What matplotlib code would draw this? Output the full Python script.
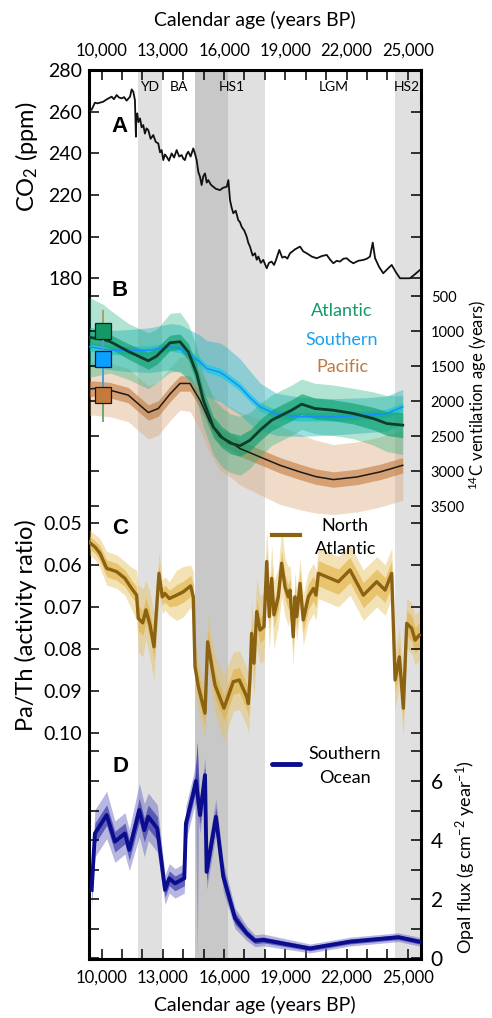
import numpy as np
import matplotlib
matplotlib.use("Agg")
import matplotlib.pyplot as plt
from matplotlib.ticker import FuncFormatter, MultipleLocator, FixedLocator, FormatStrFormatter
from matplotlib.lines import Line2D

plt.rcParams['font.family'] = ['Lato', 'DejaVu Sans']
plt.rcParams['mathtext.fontset'] = 'custom'
plt.rcParams['mathtext.rm'] = 'Lato'
plt.rcParams['mathtext.it'] = 'Lato:italic'
plt.rcParams['mathtext.bf'] = 'Lato:bold'

# ---- A: atmospheric CO2 ----
co2_age = [9400, 9510, 9670, 9800, 10080, 10245, 10490, 10600, 10735, 10850, 10980, 11100,
           11225, 11390, 11470, 11550, 11630, 11680, 11700, 11745, 11800, 11880, 11960, 12040,
           12120, 12200, 12285, 12400, 12530, 12650, 12775, 12860, 12940, 13020, 13100, 13185,
           13300, 13430, 13550, 13675, 13800, 13920, 14000, 14080, 14160, 14245, 14360, 14490,
           14570, 14655, 14740, 14820, 14900, 14980, 15065, 15150, 15225, 15350, 15470, 15600,
           15800, 15950, 16130, 16210, 16290, 16370, 16450, 16570, 16695, 16780, 16860, 16990,
           17110, 17190, 17270, 17400, 17515, 17600, 17680, 17800, 17920, 18000, 18090, 18200,
           18330, 18450, 18545, 18705, 18850, 18985, 19100, 19230, 19480, 19720, 19880, 20050,
           20300, 20540, 20800, 21030, 21200, 21355, 21520, 21680, 21850, 22010, 22170, 22335,
           22580, 22825, 23000, 23150, 23285, 23400, 23600, 23800, 24000, 24215, 24420, 24620,
           24900, 25110, 25350, 25600]
co2_ppm = [260.5, 261, 264.3, 264, 264.8, 265.9, 267.2, 266, 268, 266.8, 266.4, 267,
           265.3, 267.2, 270.7, 269.6, 265.6, 248, 258, 259.2, 255, 256.8, 252.5, 253.6,
           249.5, 252, 251.2, 247, 248.8, 245.5, 244.8, 240.5, 241.6, 236.8, 239.5, 238.4,
           236.5, 240, 238, 241.6, 238.5, 239.2, 237.5, 236.8, 239.5, 240.8, 238.5, 242.4,
           240, 236.8, 231, 228.8, 224.8, 229, 230.4, 226, 227.2, 225, 224, 223,
           222.4, 223.5, 224, 227.2, 217.6, 214, 211.3, 212.5, 208, 207, 204.8, 203,
           200, 197, 195.3, 191, 192.1, 189, 190.5, 187.5, 188.9, 187, 184.9, 187.5,
           188.1, 186.5, 188.9, 193.7, 190, 190.5, 189.5, 192.1, 194, 195.3, 193, 192.1,
           190.5, 189.7, 190.8, 191.3, 189, 187.3, 188.5, 188.1, 189.5, 189.7, 188.3, 187.3,
           188.5, 188.9, 189.5, 190.5, 197.2, 189.7, 185.5, 182.5, 184.5, 186.5, 183, 180.1,
           180.1, 180.1, 182, 184.1]

# ---- B: 14C ventilation age ----
atl_age = [9400, 10080, 10410, 11300, 12285, 12695, 13350, 13840, 14245, 14655, 14985, 15470,
           15900, 16290, 16780, 17270, 17760, 18330, 18820, 19310, 19800, 20455, 21355, 22335,
           23315, 23970, 24755]
atl_vent = [1090, 1120, 1150, 1290, 1425, 1358, 1168, 1153, 1297, 1606, 1988, 2370,
            2520, 2600, 2640, 2560, 2417, 2274, 2202, 2131, 2045, 2107, 2131, 2178,
            2250, 2321, 2345]
atl_in = [100, 100, 100, 110, 120, 120, 110, 110, 120, 130, 140, 150,
          150, 150, 150, 150, 150, 150, 150, 150, 150, 150, 150, 150, 160, 170, 180]
atl_out = [570, 500, 450, 400, 400, 380, 420, 420, 400, 380, 380, 400,
           420, 420, 420, 400, 380, 360, 360, 360, 360, 360, 360, 360, 380, 400, 420]

sou_age = [9400, 10410, 11300, 12370, 13350, 13840, 14330, 14820, 15145, 15800, 16130, 16780,
           17270, 17760, 18575, 19720, 21355, 22990, 23970, 24755]
sou_vent = [1225, 1272, 1280, 1272, 1225, 1248, 1344, 1440, 1534, 1590, 1654, 1797,
            1950, 2083, 2190, 2226, 2226, 2202, 2178, 2083]
sou_in = [60, 60, 60, 60, 60, 60, 60, 60, 60, 60, 60, 60, 60, 60, 60, 60, 60, 60, 60, 60]
sou_out = [280, 280, 300, 320, 330, 340, 360, 380, 400, 420, 420, 400,
           380, 340, 300, 280, 260, 250, 250, 250]

pac_age = [9400, 9590, 10410, 11305, 12285, 12775, 13350, 13840, 14330, 14820, 15310, 15800,
           16290, 16780, 17760, 18740, 19720, 20500, 21355, 22500, 23640, 24755]
pac_vent = [1830, 1821, 1845, 1916, 2164, 2107, 1900, 1749, 1749, 1988, 2298, 2512,
            2580, 2679, 2799, 2918, 3013, 3080, 3122, 3085, 3013, 2918]
pac_in = [110, 110, 110, 110, 110, 110, 110, 110, 110, 110, 110, 110,
          110, 110, 110, 110, 110, 110, 110, 110, 110, 110]
pac_out = [380, 380, 380, 380, 380, 380, 380, 380, 400, 420, 450, 480,
           500, 520, 540, 560, 540, 520, 500, 500, 500, 500]

# modern (core-top) values
mod_age = 10080
mod_atl, mod_sou, mod_pac = 1000, 1405, 1920

# ---- C: Pa/Th North Atlantic ----
path_age = [9400, 9460, 9670, 9915, 10245, 10735, 11140, 11470, 11715, 11795, 12010, 12170,
            12370, 12565, 12810, 12970, 13100, 13315, 13675, 14000, 14360, 14490, 14575, 14740,
            15065, 15195, 15555, 15995, 16450, 16745, 17110, 17190, 17270, 17350, 17465, 17600,
            17760, 17955, 18090, 18215, 18335, 18445, 18655, 18820, 18985, 19145, 19230, 19390,
            19475, 19560, 19720, 19880, 20130, 20375, 20505, 20620, 21600, 22170, 22825, 23480,
            23890, 24215, 24380, 24590, 24785, 24950, 25195, 25360, 25570]
path_val = [0.0545, 0.0548, 0.0556, 0.0571, 0.0607, 0.0615, 0.0631, 0.0655, 0.0671, 0.0726, 0.0737, 0.0706,
            0.0742, 0.0794, 0.0619, 0.0675, 0.0667, 0.0679, 0.0671, 0.0663, 0.0649, 0.0675, 0.0841, 0.0889,
            0.0952, 0.0782, 0.0885, 0.0940, 0.0877, 0.0873, 0.0913, 0.0929, 0.0869, 0.0762, 0.0833, 0.0710,
            0.0754, 0.0746, 0.0591, 0.0722, 0.0631, 0.0718, 0.0675, 0.0595, 0.0651, 0.0675, 0.0659, 0.0770,
            0.0675, 0.0722, 0.0643, 0.0730, 0.0675, 0.0655, 0.0671, 0.0619, 0.0639, 0.0611, 0.0671, 0.0639,
            0.0659, 0.0619, 0.0873, 0.0818, 0.0940, 0.0738, 0.0750, 0.0778, 0.0766]
path_in = [0.0015, 0.0015, 0.0015, 0.0018, 0.002, 0.002, 0.002, 0.002, 0.002, 0.003, 0.003, 0.003,
           0.003, 0.003, 0.002, 0.002, 0.002, 0.002, 0.0025, 0.0025, 0.0025, 0.003, 0.003, 0.003,
           0.003, 0.003, 0.003, 0.003, 0.003, 0.003, 0.003, 0.003, 0.003, 0.003, 0.003, 0.003,
           0.003, 0.003, 0.003, 0.003, 0.003, 0.003, 0.003, 0.003, 0.003, 0.003, 0.003, 0.003,
           0.003, 0.003, 0.003, 0.003, 0.003, 0.003, 0.003, 0.003, 0.003, 0.003, 0.003, 0.003,
           0.003, 0.003, 0.003, 0.003, 0.003, 0.003, 0.003, 0.003, 0.003]
path_out = [0.003, 0.003, 0.003, 0.0035, 0.004, 0.004, 0.004, 0.005, 0.006, 0.008, 0.008, 0.007,
            0.008, 0.008, 0.005, 0.004, 0.004, 0.004, 0.006, 0.006, 0.005, 0.006, 0.006, 0.006,
            0.006, 0.006, 0.007, 0.008, 0.007, 0.007, 0.007, 0.007, 0.008, 0.008, 0.008, 0.008,
            0.008, 0.008, 0.008, 0.008, 0.008, 0.008, 0.007, 0.008, 0.007, 0.007, 0.006, 0.007,
            0.006, 0.006, 0.006, 0.006, 0.006, 0.006, 0.006, 0.006, 0.006, 0.006, 0.006, 0.006,
            0.006, 0.006, 0.007, 0.007, 0.007, 0.006, 0.006, 0.006, 0.006]

# ---- D: opal flux Southern Ocean ----
opal_age = [9510, 9670, 10245, 10650, 11140, 11355, 11845, 12090, 12285, 12725, 13105, 13315,
            13595, 14050, 14130, 14490, 14620, 14820, 15065, 15145, 15600, 15960, 16535, 17110,
            17515, 17920, 20210, 22170, 24540, 25570]
opal_val = [2.32, 4.23, 4.85, 3.95, 4.23, 3.67, 5.02, 4.34, 4.79, 4.40, 2.32, 2.71,
            2.54, 2.71, 4.57, 5.59, 6.0, 4.85, 6.20, 2.93, 4.79, 2.77, 1.36, 0.85,
            0.60, 0.63, 0.34, 0.57, 0.72, 0.57]
opal_in = [0.3, 0.35, 0.35, 0.35, 0.35, 0.35, 0.4, 0.4, 0.4, 0.4, 0.25, 0.25,
           0.25, 0.25, 0.3, 0.3, 0.35, 0.3, 0.3, 0.3, 0.3, 0.25, 0.2, 0.12,
           0.1, 0.1, 0.08, 0.08, 0.08, 0.08]
opal_out = [0.6, 0.8, 0.8, 0.7, 0.7, 0.7, 0.9, 0.9, 0.8, 0.8, 0.5, 0.5,
            0.5, 0.5, 0.6, 0.6, 0.7, 0.6, 0.6, 0.6, 0.6, 0.5, 0.35, 0.25,
            0.2, 0.2, 0.15, 0.15, 0.15, 0.15]
spike_age = [14600, 14680, 14760]
spike_top = [6.4, 7.33, 6.0]
spike_mid = [6.0, 5.8, 5.4]
spike_bot = [5.6, 0.0, 5.0]

# event intervals
light_spans = [(11800, 12950), (16200, 18000), (24400, 25700)]
dark_spans = [(14570, 16200)]
event_names = ['YD', 'BA', 'HS1', 'LGM', 'HS2']
event_x = [12370, 13790, 16390, 21390, 24960]

age_ticks = [10000, 13000, 16000, 19000, 22000, 25000]

W, H = 492, 1018
fig = plt.figure(figsize=(W / 100, H / 100), dpi=100)
ax = fig.add_axes([89 / W, 1 - 959 / H, 332 / W, 889 / H])


def fpos(x, y):
    return x / W, 1 - y / H


for a, b in light_spans:
    ax.axvspan(a, b, color='#e0e0e0', lw=0, zorder=0)
for a, b in dark_spans:
    ax.axvspan(a, b, color='#c8c8c8', lw=0, zorder=0)
for name, xx in zip(event_names, event_x):
    ax.text(xx, 0.981, name, transform=ax.get_xaxis_transform(), ha='center', va='center',
            fontsize=10)

# A
ax.plot(co2_age, co2_ppm, color='#111111', lw=1.3, zorder=3)
ax.set_xlim(9380, 25650)
ax.set_ylim(-146.4, 280)

# B
axb = ax.twinx()
axb.set_ylim(9971, -2729)
x = np.array(pac_age); v = np.array(pac_vent)
axb.fill_between(x, v - np.array(pac_out), v + np.array(pac_out), color='#d9a577', alpha=0.4, lw=0)
axb.fill_between(x, v - np.array(pac_in), v + np.array(pac_in), color='#c27a3c', alpha=0.6, lw=0)
x = np.array(sou_age); v = np.array(sou_vent)
axb.fill_between(x, v - np.array(sou_out), v + np.array(sou_out), color='#28b8c4', alpha=0.45, lw=0)
axb.fill_between(x, v - np.array(sou_in), v + np.array(sou_in), color='#00d0ec', alpha=0.6, lw=0)
x = np.array(atl_age); v = np.array(atl_vent)
axb.fill_between(x, v - np.array(atl_out), v + np.array(atl_out), color='#22b080', alpha=0.35, lw=0)
axb.fill_between(x, v - np.array(atl_in), v + np.array(atl_in), color='#12a070', alpha=0.65, lw=0)
axb.plot(pac_age, pac_vent, color='#1a1a1a', lw=1.1)
axb.plot(sou_age, sou_vent, color='#1a8cff', lw=1.1)
axb.plot(atl_age, atl_vent, color='#0d3d2a', lw=2)
axb.errorbar([mod_age], [mod_atl], yerr=[[300], [1300]], fmt='none', ecolor='#52a060', elinewidth=1.2)
axb.errorbar([mod_age], [mod_pac], yerr=[[1220], [0]], fmt='none', ecolor='#b8a070', elinewidth=1.2)
axb.errorbar([mod_age], [mod_sou], yerr=[[400], [500]], fmt='none', ecolor='#3aa0e8', elinewidth=1.2)
axb.plot([mod_age], [mod_atl], 's', ms=12, mfc='#129966', mec='#1a1a1a', mew=0.9)
axb.plot([mod_age], [mod_sou], 's', ms=12, mfc='#0aa0ff', mec='#1a1a1a', mew=0.9)
axb.plot([mod_age], [mod_pac], 's', ms=12, mfc='#c47a3c', mec='#1a1a1a', mew=0.9)

# C
axc = ax.twinx()
axc.set_ylim(0.1537, -0.0579)
x = np.array(path_age); v = np.array(path_val)
axc.fill_between(x, v - np.array(path_out), v + np.array(path_out), color='#e8c060', alpha=0.45, lw=0)
axc.fill_between(x, v - np.array(path_in), v + np.array(path_in), color='#e0b040', alpha=0.6, lw=0)
axc.plot(path_age, path_val, color='#8a6212', lw=2.4)

# D
axd = ax.twinx()
axd.set_ylim(-0.017, 30.04)
x = np.array(opal_age); v = np.array(opal_val)
axd.fill_between(x, v - np.array(opal_out), v + np.array(opal_out), color='#6060c0', alpha=0.45, lw=0)
axd.fill_between(x, v - np.array(opal_in), v + np.array(opal_in), color='#2828a0', alpha=0.6, lw=0)
axd.fill_between(spike_age, spike_bot, spike_top, color='#6060c0', alpha=0.45, lw=0)
axd.fill_between(spike_age, spike_mid, spike_top, color='#2828a0', alpha=0.6, lw=0)
axd.plot(opal_age, opal_val, color='#0c0c8e', lw=2.8)

# ticks
ax.xaxis.set_major_locator(FixedLocator(age_ticks))
ax.xaxis.set_minor_locator(MultipleLocator(1000))
ax.xaxis.set_major_formatter(FuncFormatter(lambda t, p: f"{t:,.0f}"))
ax.xaxis.set_ticks_position('both')
ax.tick_params(axis='x', which='both', direction='in', length=7, width=1.1,
               labeltop=True, labelbottom=True, labelsize=12, pad=8)

ax.yaxis.set_major_locator(FixedLocator([180, 200, 220, 240, 260, 280]))
axb.yaxis.set_major_locator(FixedLocator([500, 1000, 1500, 2000, 2500, 3000, 3500]))
axc.yaxis.set_major_locator(FixedLocator([0.05, 0.06, 0.07, 0.08, 0.09, 0.10]))
axc.yaxis.set_major_formatter(FormatStrFormatter('%.2f'))
axd.yaxis.set_major_locator(FixedLocator([0, 2, 4, 6]))
axd.yaxis.set_minor_locator(FixedLocator([1, 3, 5, 7]))

for a, lab_left, size in [(ax, True, 14), (axb, False, 10.5), (axc, True, 14), (axd, False, 15)]:
    a.yaxis.set_ticks_position('both')
    a.tick_params(axis='y', which='both', direction='in', length=7, width=1.1,
                  labelleft=lab_left, labelright=not lab_left, labelsize=size, pad=5 if lab_left else 7)
for a in (axb, axc, axd):
    for s in a.spines.values():
        s.set_visible(False)
for s in ax.spines.values():
    s.set_linewidth(2.2)

# labels
fig.text(*fpos(255, 20), 'Calendar age (years BP)', ha='center', va='center', fontsize=14)
fig.text(*fpos(255, 1005), 'Calendar age (years BP)', ha='center', va='center', fontsize=14)
fig.text(*fpos(26, 157), 'CO$_2$ (ppm)', rotation=90, ha='center', va='center', fontsize=17)
fig.text(*fpos(26, 625), 'Pa/Th (activity ratio)', rotation=90, ha='center', va='center', fontsize=17)
fig.text(*fpos(478, 395), '$^{14}$C ventilation age (years)', rotation=90, ha='center', va='center', fontsize=12)
fig.text(*fpos(466, 857), 'Opal flux (g cm$^{-2}$ year$^{-1}$)', rotation=90, ha='center', va='center', fontsize=13)

for letter, yy in [('A', 127), ('B', 291), ('C', 529), ('D', 767)]:
    fig.text(*fpos(120, yy), letter, ha='center', va='center', fontsize=16, fontweight='bold',
             family=['Liberation Sans', 'DejaVu Sans'])

fig.text(*fpos(342, 311), 'Atlantic', color='#129966', ha='center', va='center', fontsize=13)
fig.text(*fpos(342, 340), 'Southern', color='#1aa0f0', ha='center', va='center', fontsize=13)
fig.text(*fpos(342, 367), 'Pacific', color='#c07a40', ha='center', va='center', fontsize=13)

fig.add_artist(Line2D([272 / W, 300 / W], [1 - 535 / H] * 2, color='#8a6212', lw=3))
fig.text(*fpos(345, 526), 'North', ha='center', va='center', fontsize=13)
fig.text(*fpos(346, 549), 'Atlantic', ha='center', va='center', fontsize=13)
fig.add_artist(Line2D([272 / W, 300 / W], [1 - 764 / H] * 2, color='#0c0c8e', lw=3.5,
                      solid_capstyle='round'))
fig.text(*fpos(345, 754), 'Southern', ha='center', va='center', fontsize=13)
fig.text(*fpos(345, 778), 'Ocean', ha='center', va='center', fontsize=13)

fig.savefig('out.png', dpi=100)
